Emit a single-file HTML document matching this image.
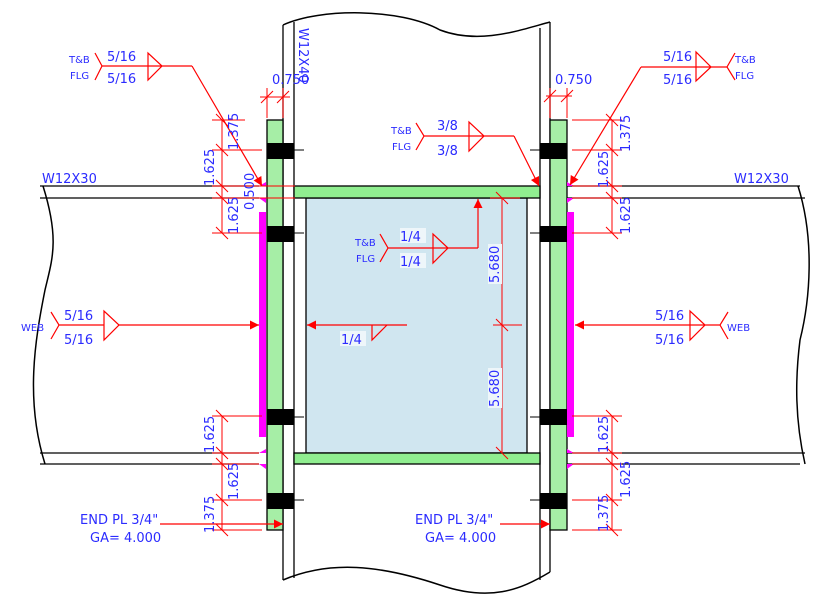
<!DOCTYPE html>
<html><head><meta charset="utf-8"><style>
html,body{margin:0;padding:0;background:#fff;}
svg{display:block;}
text{font-family:"DejaVu Sans","Liberation Sans",sans-serif;fill:#2b2bff;}
.s{font-size:10px}
.m{font-size:13px}
</style></head><body>
<svg width="820" height="612" viewBox="0 0 820 612" xmlns="http://www.w3.org/2000/svg">
<defs>
<marker id="a" viewBox="0 0 10 10" refX="10" refY="5" markerWidth="14" markerHeight="9" markerUnits="userSpaceOnUse" orient="auto"><path d="M0,0 L10,5 L0,10 z" fill="#f00"/></marker>
</defs>
<!-- column -->
<path d="M283,25 C320,8 400,8 440,30 C480,45 520,30 550,22" fill="none" stroke="#000" stroke-width="1.5"/>
<path d="M283,580 C330,560 380,565 440,585 C490,602 520,590 550,572" fill="none" stroke="#000" stroke-width="1.5"/>
<g stroke="#000" stroke-width="1.3">
<line x1="283" y1="25" x2="283" y2="580"/><line x1="294" y1="22" x2="294" y2="578"/>
<line x1="540" y1="28" x2="540" y2="580"/><line x1="550" y1="22" x2="550" y2="572"/>
</g>
<!-- beams outer -->
<g stroke="#000" stroke-width="1.3">
<line x1="40" y1="186" x2="259" y2="186"/><line x1="40" y1="198" x2="259" y2="198"/>
<line x1="40" y1="453" x2="259" y2="453"/><line x1="40" y1="464" x2="259" y2="464"/>
<line x1="567" y1="186" x2="800" y2="186"/><line x1="567" y1="198" x2="805" y2="198"/>
<line x1="567" y1="453" x2="805" y2="453"/><line x1="567" y1="464" x2="800" y2="464"/>
</g>
<path d="M43,186 C60,240 52,260 45,290 C35,340 25,400 45,464" fill="none" stroke="#000" stroke-width="1.5"/>
<path d="M798,186 C815,240 810,300 800,340 C795,380 795,420 805,464" fill="none" stroke="#000" stroke-width="1.5"/>
<!-- inner beam -->
<rect x="306" y="198" width="221" height="255" fill="#d0e6f0" stroke="#000" stroke-width="1.3"/>
<rect x="294" y="186" width="246" height="12" fill="#90ee90" stroke="#000" stroke-width="1.3"/>
<rect x="294" y="453" width="246" height="11" fill="#90ee90" stroke="#000" stroke-width="1.3"/>
<!-- end plates -->
<rect x="267" y="120" width="16" height="410" fill="#a6eea6" stroke="#000" stroke-width="1.3"/>
<rect x="550" y="120" width="17" height="410" fill="#a6eea6" stroke="#000" stroke-width="1.3"/>
<!-- magenta -->
<rect x="259" y="212" width="7" height="225" fill="#f0f"/>
<rect x="567" y="212" width="7" height="225" fill="#f0f"/>
<g fill="#f0f">
<path d="M259,186 L266,182 L266,186 z"/><path d="M259,198 L266,198 L266,203 z"/>
<path d="M259,453 L266,449 L266,453 z"/><path d="M259,464 L266,464 L266,469 z"/>
<path d="M567,182 L574,186 L567,186 z"/><path d="M567,198 L574,198 L567,203 z"/>
<path d="M567,449 L574,453 L567,453 z"/><path d="M567,464 L574,464 L567,469 z"/>
</g>
<!-- bolts -->
<g fill="#000">
<rect x="267" y="143" width="27" height="16"/><rect x="267" y="226" width="27" height="16"/>
<rect x="267" y="409" width="27" height="16"/><rect x="267" y="493" width="27" height="16"/>
<rect x="540" y="143" width="27" height="16"/><rect x="540" y="226" width="27" height="16"/>
<rect x="540" y="409" width="27" height="16"/><rect x="540" y="493" width="27" height="16"/>
</g>
<g stroke="#000" stroke-width="1">
<line x1="294" y1="150" x2="304" y2="150"/><line x1="294" y1="233" x2="304" y2="233"/>
<line x1="294" y1="417" x2="304" y2="417"/><line x1="294" y1="500" x2="304" y2="500"/>
<line x1="530" y1="150" x2="540" y2="150"/><line x1="530" y1="233" x2="540" y2="233"/>
<line x1="530" y1="417" x2="540" y2="417"/><line x1="530" y1="500" x2="540" y2="500"/>
</g>
<!-- dimensions -->
<g stroke="#f00" stroke-width="1" fill="none">
<line x1="222" y1="120" x2="222" y2="233"/>
<line x1="212" y1="120" x2="245" y2="120"/><line x1="212" y1="150" x2="262" y2="150"/>
<line x1="212" y1="186" x2="295" y2="186"/><line x1="212" y1="198" x2="295" y2="198"/>
<line x1="212" y1="233" x2="262" y2="233"/>
<line x1="222" y1="416" x2="222" y2="530"/>
<line x1="212" y1="416" x2="262" y2="416"/><line x1="212" y1="453" x2="259" y2="453"/>
<line x1="212" y1="464" x2="259" y2="464"/><line x1="212" y1="500" x2="262" y2="500"/>
<line x1="212" y1="530" x2="262" y2="530"/>
<line x1="612" y1="120" x2="612" y2="233"/>
<line x1="572" y1="120" x2="622" y2="120"/><line x1="572" y1="150" x2="622" y2="150"/>
<line x1="572" y1="186" x2="622" y2="186"/><line x1="572" y1="198" x2="622" y2="198"/>
<line x1="572" y1="233" x2="622" y2="233"/>
<line x1="612" y1="416" x2="612" y2="530"/>
<line x1="572" y1="416" x2="622" y2="416"/><line x1="572" y1="453" x2="622" y2="453"/>
<line x1="572" y1="464" x2="622" y2="464"/><line x1="572" y1="500" x2="622" y2="500"/>
<line x1="572" y1="530" x2="622" y2="530"/>
<path d="M216,114 l12,12 M216,144 l12,12 M216,180 l12,12 M216,192 l12,12 M216,227 l12,12 M216,410 l12,12 M216,447 l12,12 M216,458 l12,12 M216,494 l12,12 M216,524 l12,12"/>
<path d="M606,114 l12,12 M606,144 l12,12 M606,180 l12,12 M606,192 l12,12 M606,227 l12,12 M606,410 l12,12 M606,447 l12,12 M606,458 l12,12 M606,494 l12,12 M606,524 l12,12"/>
<line x1="267" y1="88" x2="267" y2="118"/><line x1="283" y1="88" x2="283" y2="118"/>
<line x1="260" y1="97" x2="290" y2="97"/><path d="M261,103 l12,-12 M277,103 l12,-12"/>
<line x1="550" y1="88" x2="550" y2="118"/><line x1="567" y1="88" x2="567" y2="118"/>
<line x1="546" y1="96" x2="572" y2="96"/><path d="M544,102 l12,-12 M561,102 l12,-12"/>
<line x1="502" y1="198" x2="502" y2="453"/><line x1="490" y1="198" x2="520" y2="198"/><line x1="493" y1="325" x2="522" y2="325"/>
<path d="M496,192 l12,12 M496,319 l12,12 M496,447 l12,12"/>
</g>
<!-- weld symbols -->
<g stroke="#f00" stroke-width="1.2" fill="none">
<path d="M95,53 L102,66 L95,80 M102,66 L192,66 M148,53 L148,80 L162,66 z"/>
<line x1="192" y1="66" x2="262" y2="186" marker-end="url(#a)"/>
<path d="M735,53 L727,67 L735,80 M727,67 L641,67 M696,52 L696,81 L711,67 z"/>
<line x1="641" y1="67" x2="570" y2="185" marker-end="url(#a)"/>
<path d="M416,123 L424,136 L416,150 M424,136 L514,136 M469,122 L469,151 L484,136 z"/>
<line x1="514" y1="136" x2="539" y2="186" marker-end="url(#a)"/>
<path d="M380,234 L388,248 L380,262 M388,248 L478,248 M433,234 L433,263 L448,248 z"/>
<line x1="478" y1="248" x2="478" y2="199" marker-end="url(#a)"/>
<path d="M51,312 L59,325 L51,339 M59,325 L104,325 M104,311 L104,340 L119,325 z"/>
<line x1="119" y1="325" x2="259" y2="325" marker-end="url(#a)"/>
<path d="M728,312 L720,325 L728,339 M720,325 L705,325 M690,311 L690,340 L705,325 z"/>
<line x1="705" y1="325" x2="575" y2="325" marker-end="url(#a)"/>
<line x1="407" y1="325" x2="307" y2="325" marker-end="url(#a)"/>
<path d="M372,325 L372,340 L387,325"/>
<line x1="160" y1="524" x2="283" y2="524" marker-end="url(#a)"/>
<line x1="500" y1="524" x2="550" y2="524" marker-end="url(#a)"/>
</g>
<!-- labels -->
<g>
<rect x="400" y="228" width="26" height="15" fill="#eef6fa"/>
<rect x="400" y="253" width="26" height="15" fill="#eef6fa"/>
<rect x="340" y="331" width="26" height="15" fill="#eef6fa"/>
<rect x="488" y="244" width="14" height="40" fill="#eef6fa"/>
<rect x="488" y="368" width="14" height="40" fill="#eef6fa"/>
</g>
<text class="s" x="69" y="63">T&amp;B</text><text class="s" x="70" y="79">FLG</text>
<text class="m" x="107" y="61">5/16</text><text class="m" x="107" y="83">5/16</text>
<text class="s" x="735" y="63">T&amp;B</text><text class="s" x="735" y="79">FLG</text>
<text class="m" x="663" y="61">5/16</text><text class="m" x="663" y="84">5/16</text>
<text class="s" x="391" y="134">T&amp;B</text><text class="s" x="392" y="150">FLG</text>
<text class="m" x="437" y="130">3/8</text><text class="m" x="437" y="155">3/8</text>
<text class="s" x="355" y="246">T&amp;B</text><text class="s" x="356" y="262">FLG</text>
<text class="m" x="400" y="241">1/4</text><text class="m" x="400" y="266">1/4</text>
<text class="s" x="21" y="331">WEB</text>
<text class="m" x="64" y="320">5/16</text><text class="m" x="64" y="344">5/16</text>
<text class="s" x="727" y="331">WEB</text>
<text class="m" x="655" y="320">5/16</text><text class="m" x="655" y="344">5/16</text>
<text class="m" x="341" y="344">1/4</text>
<text class="m" x="42" y="183">W12X30</text><text class="m" x="734" y="183">W12X30</text>
<text class="m" x="272" y="84">0.750</text><text class="m" x="555" y="84">0.750</text>
<text class="m" x="80" y="524">END PL 3/4"</text><text class="m" x="90" y="542">GA= 4.000</text>
<text class="m" x="415" y="524">END PL 3/4"</text><text class="m" x="425" y="542">GA= 4.000</text>
<text class="m" transform="translate(299,28) rotate(90)">W12X40</text>
<g class="m">
<text class="m" transform="translate(238,150) rotate(-90)">1.375</text>
<text class="m" transform="translate(214,186) rotate(-90)">1.625</text>
<text class="m" transform="translate(254,210) rotate(-90)">0.500</text>
<text class="m" transform="translate(238,234) rotate(-90)">1.625</text>
<text class="m" transform="translate(214,453) rotate(-90)">1.625</text>
<text class="m" transform="translate(238,500) rotate(-90)">1.625</text>
<text class="m" transform="translate(214,533) rotate(-90)">1.375</text>
<text class="m" transform="translate(630,152) rotate(-90)">1.375</text>
<text class="m" transform="translate(608,188) rotate(-90)">1.625</text>
<text class="m" transform="translate(630,234) rotate(-90)">1.625</text>
<text class="m" transform="translate(608,453) rotate(-90)">1.625</text>
<text class="m" transform="translate(630,498) rotate(-90)">1.625</text>
<text class="m" transform="translate(608,532) rotate(-90)">1.375</text>
<text class="m" transform="translate(499,283) rotate(-90)">5.680</text>
<text class="m" transform="translate(499,407) rotate(-90)">5.680</text>
</g>
</svg>
</body></html>
